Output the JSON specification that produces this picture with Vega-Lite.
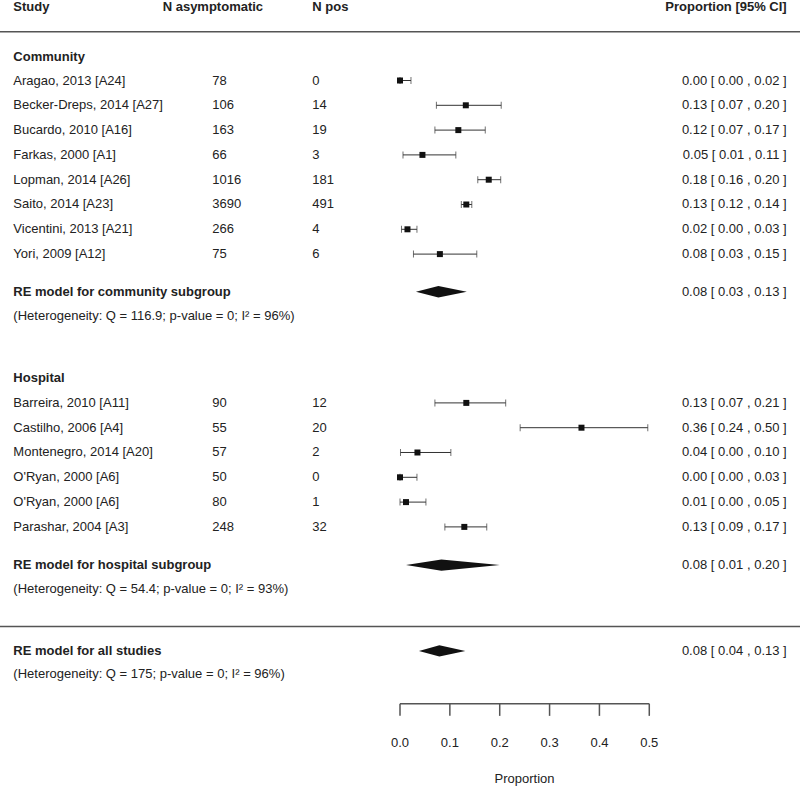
{
  "$schema": "https://vega.github.io/schema/vega-lite/v6.json",
  "width": 800,
  "height": 787,
  "autosize": {"type": "none"},
  "padding": 0,
  "background": "white",
  "config": {
    "view": {"stroke": null},
    "text": {"font": "Liberation Sans", "fontSize": 13, "color": "#222", "baseline": "middle"}
  },
  "datasets": {
    "studies": [
      {"study": "Aragao, 2013 [A24]", "n": 78, "pos": 0, "est": 0.0, "lo": 0.0, "hi": 0.022, "ci": "0.00 [ 0.00 , 0.02 ]", "row": 0},
      {"study": "Becker-Dreps, 2014 [A27]", "n": 106, "pos": 14, "est": 0.132, "lo": 0.073, "hi": 0.203, "ci": "0.13 [ 0.07 , 0.20 ]", "row": 1},
      {"study": "Bucardo, 2010 [A16]", "n": 163, "pos": 19, "est": 0.117, "lo": 0.07, "hi": 0.171, "ci": "0.12 [ 0.07 , 0.17 ]", "row": 2},
      {"study": "Farkas, 2000 [A1]", "n": 66, "pos": 3, "est": 0.045, "lo": 0.006, "hi": 0.112, "ci": "0.05 [ 0.01 , 0.11 ]", "row": 3},
      {"study": "Lopman, 2014 [A26]", "n": 1016, "pos": 181, "est": 0.178, "lo": 0.156, "hi": 0.202, "ci": "0.18 [ 0.16 , 0.20 ]", "row": 4},
      {"study": "Saito, 2014 [A23]", "n": 3690, "pos": 491, "est": 0.133, "lo": 0.123, "hi": 0.144, "ci": "0.13 [ 0.12 , 0.14 ]", "row": 5},
      {"study": "Vicentini, 2013 [A21]", "n": 266, "pos": 4, "est": 0.015, "lo": 0.003, "hi": 0.034, "ci": "0.02 [ 0.00 , 0.03 ]", "row": 6},
      {"study": "Yori, 2009 [A12]", "n": 75, "pos": 6, "est": 0.08, "lo": 0.027, "hi": 0.154, "ci": "0.08 [ 0.03 , 0.15 ]", "row": 7},
      {"study": "Barreira, 2010 [A11]", "n": 90, "pos": 12, "est": 0.133, "lo": 0.07, "hi": 0.212, "ci": "0.13 [ 0.07 , 0.21 ]", "row": 13},
      {"study": "Castilho, 2006 [A4]", "n": 55, "pos": 20, "est": 0.364, "lo": 0.241, "hi": 0.497, "ci": "0.36 [ 0.24 , 0.50 ]", "row": 14},
      {"study": "Montenegro, 2014 [A20]", "n": 57, "pos": 2, "est": 0.035, "lo": 0.001, "hi": 0.102, "ci": "0.04 [ 0.00 , 0.10 ]", "row": 15},
      {"study": "O'Ryan, 2000 [A6]", "n": 50, "pos": 0, "est": 0.0, "lo": 0.0, "hi": 0.034, "ci": "0.00 [ 0.00 , 0.03 ]", "row": 16},
      {"study": "O'Ryan, 2000 [A6]", "n": 80, "pos": 1, "est": 0.012, "lo": 0.0, "hi": 0.052, "ci": "0.01 [ 0.00 , 0.05 ]", "row": 17},
      {"study": "Parashar, 2004 [A3]", "n": 248, "pos": 32, "est": 0.129, "lo": 0.09, "hi": 0.174, "ci": "0.13 [ 0.09 , 0.17 ]", "row": 18}
    ],
    "bold": [
      {"text": "Community", "row": -0.96},
      {"text": "RE model for community subgroup", "row": 8.52},
      {"text": "Hospital", "row": 12.0},
      {"text": "RE model for hospital subgroup", "row": 19.54},
      {"text": "RE model for all studies", "row": 23.0}
    ],
    "het": [
      {"text": "(Heterogeneity: Q = 116.9; p-value = 0; I² = 96%)", "row": 9.48},
      {"text": "(Heterogeneity: Q = 54.4; p-value = 0; I² = 93%)", "row": 20.5},
      {"text": "(Heterogeneity: Q = 175; p-value = 0; I² = 96%)", "row": 23.93}
    ],
    "models": [
      {"model": "community", "ci": "0.08 [ 0.03 , 0.13 ]", "row": 8.52},
      {"model": "hospital", "ci": "0.08 [ 0.01 , 0.20 ]", "row": 19.54},
      {"model": "all", "ci": "0.08 [ 0.04 , 0.13 ]", "row": 23.0}
    ],
    "diamonds": [
      {"model": "community", "x": 0.032, "top": 8.52, "bot": 8.52},
      {"model": "community", "x": 0.077, "top": 8.29, "bot": 8.75},
      {"model": "community", "x": 0.134, "top": 8.52, "bot": 8.52},
      {"model": "hospital", "x": 0.012, "top": 19.54, "bot": 19.54},
      {"model": "hospital", "x": 0.083, "top": 19.31, "bot": 19.77},
      {"model": "hospital", "x": 0.2, "top": 19.54, "bot": 19.54},
      {"model": "all", "x": 0.038, "top": 23.0, "bot": 23.0},
      {"model": "all", "x": 0.079, "top": 22.77, "bot": 23.23},
      {"model": "all", "x": 0.131, "top": 23.0, "bot": 23.0}
    ],
    "separators": [{"row": -1.97}, {"row": 22.02}],
    "ticks": [
      {"v": 0.0, "lab": "0.0"},
      {"v": 0.1, "lab": "0.1"},
      {"v": 0.2, "lab": "0.2"},
      {"v": 0.3, "lab": "0.3"},
      {"v": 0.4, "lab": "0.4"},
      {"v": 0.5, "lab": "0.5"}
    ]
  },
  "layer": [
    {
      "data": {"name": "separators"},
      "mark": {"type": "rule", "color": "#555", "strokeWidth": 1.5},
      "encoding": {
        "y": {"field": "row", "type": "quantitative", "scale": {"domain": [-3.246, 28.488], "reverse": true, "nice": false, "zero": false}, "axis": null},
        "x": {"datum": -0.8023, "type": "quantitative", "scale": {"domain": [-0.8023, 0.8023], "nice": false, "zero": false}, "axis": null},
        "x2": {"datum": 0.8023}
      }
    },
    {
      "data": {"values": [{"t": "Study"}]},
      "mark": {"type": "text", "align": "left", "fontWeight": "bold"},
      "encoding": {"x": {"datum": -0.7755, "type": "quantitative"}, "y": {"datum": -2.96, "type": "quantitative"}, "text": {"field": "t"}}
    },
    {
      "data": {"values": [{"t": "N asymptomatic"}]},
      "mark": {"type": "text", "align": "left", "fontWeight": "bold"},
      "encoding": {"x": {"datum": -0.476, "type": "quantitative"}, "y": {"datum": -2.96, "type": "quantitative"}, "text": {"field": "t"}}
    },
    {
      "data": {"values": [{"t": "N pos"}]},
      "mark": {"type": "text", "align": "left", "fontWeight": "bold"},
      "encoding": {"x": {"datum": -0.1759, "type": "quantitative"}, "y": {"datum": -2.96, "type": "quantitative"}, "text": {"field": "t"}}
    },
    {
      "data": {"values": [{"t": "Proportion [95% CI]"}]},
      "mark": {"type": "text", "align": "right", "fontWeight": "bold"},
      "encoding": {"x": {"datum": 0.7756, "type": "quantitative"}, "y": {"datum": -2.96, "type": "quantitative"}, "text": {"field": "t"}}
    },
    {
      "data": {"name": "bold"},
      "mark": {"type": "text", "align": "left", "fontWeight": "bold"},
      "encoding": {"x": {"datum": -0.7755, "type": "quantitative"}, "y": {"field": "row", "type": "quantitative"}, "text": {"field": "text"}}
    },
    {
      "data": {"name": "het"},
      "mark": {"type": "text", "align": "left"},
      "encoding": {"x": {"datum": -0.7755, "type": "quantitative"}, "y": {"field": "row", "type": "quantitative"}, "text": {"field": "text"}}
    },
    {
      "data": {"name": "models"},
      "mark": {"type": "text", "align": "right"},
      "encoding": {"x": {"datum": 0.7756, "type": "quantitative"}, "y": {"field": "row", "type": "quantitative"}, "text": {"field": "ci"}}
    },
    {
      "data": {"name": "studies"},
      "layer": [
        {
          "mark": {"type": "text", "align": "left"},
          "encoding": {"x": {"datum": -0.7755, "type": "quantitative"}, "y": {"field": "row", "type": "quantitative"}, "text": {"field": "study"}}
        },
        {
          "mark": {"type": "text", "align": "left"},
          "encoding": {"x": {"datum": -0.3765, "type": "quantitative"}, "y": {"field": "row", "type": "quantitative"}, "text": {"field": "n"}}
        },
        {
          "mark": {"type": "text", "align": "left"},
          "encoding": {"x": {"datum": -0.1759, "type": "quantitative"}, "y": {"field": "row", "type": "quantitative"}, "text": {"field": "pos"}}
        },
        {
          "mark": {"type": "text", "align": "right"},
          "encoding": {"x": {"datum": 0.7756, "type": "quantitative"}, "y": {"field": "row", "type": "quantitative"}, "text": {"field": "ci"}}
        },
        {
          "mark": {"type": "rule", "color": "#333", "strokeWidth": 1},
          "encoding": {"x": {"field": "lo", "type": "quantitative"}, "x2": {"field": "hi"}, "y": {"field": "row", "type": "quantitative"}}
        },
        {
          "mark": {"type": "tick", "orient": "vertical", "color": "#333", "thickness": 1, "size": 7},
          "encoding": {"x": {"field": "lo", "type": "quantitative"}, "y": {"field": "row", "type": "quantitative"}}
        },
        {
          "mark": {"type": "tick", "orient": "vertical", "color": "#333", "thickness": 1, "size": 7},
          "encoding": {"x": {"field": "hi", "type": "quantitative"}, "y": {"field": "row", "type": "quantitative"}}
        },
        {
          "mark": {"type": "point", "shape": "square", "filled": true, "color": "#111", "size": 36, "opacity": 1},
          "encoding": {"x": {"field": "est", "type": "quantitative"}, "y": {"field": "row", "type": "quantitative"}}
        }
      ]
    },
    {
      "data": {"name": "diamonds"},
      "mark": {"type": "area", "orient": "vertical", "color": "#111", "opacity": 1},
      "encoding": {
        "x": {"field": "x", "type": "quantitative"},
        "y": {"field": "top", "type": "quantitative"},
        "y2": {"field": "bot"},
        "detail": {"field": "model"}
      }
    },
    {
      "data": {"values": [{"a": 0}]},
      "mark": {"type": "rule", "color": "#555", "strokeWidth": 1.5},
      "encoding": {"x": {"datum": 0, "type": "quantitative"}, "x2": {"datum": 0.5}, "y": {"datum": 25.13, "type": "quantitative"}}
    },
    {
      "data": {"name": "ticks"},
      "layer": [
        {
          "mark": {"type": "rule", "color": "#555", "strokeWidth": 1.5},
          "encoding": {"x": {"field": "v", "type": "quantitative"}, "y": {"datum": 25.13, "type": "quantitative"}, "y2": {"datum": 25.62}}
        },
        {
          "mark": {"type": "text", "align": "center"},
          "encoding": {"x": {"field": "v", "type": "quantitative"}, "y": {"datum": 26.7, "type": "quantitative"}, "text": {"field": "lab"}}
        }
      ]
    },
    {
      "data": {"values": [{"t": "Proportion"}]},
      "mark": {"type": "text", "align": "center"},
      "encoding": {"x": {"datum": 0.2497, "type": "quantitative"}, "y": {"datum": 28.16, "type": "quantitative"}, "text": {"field": "t"}}
    }
  ]
}
